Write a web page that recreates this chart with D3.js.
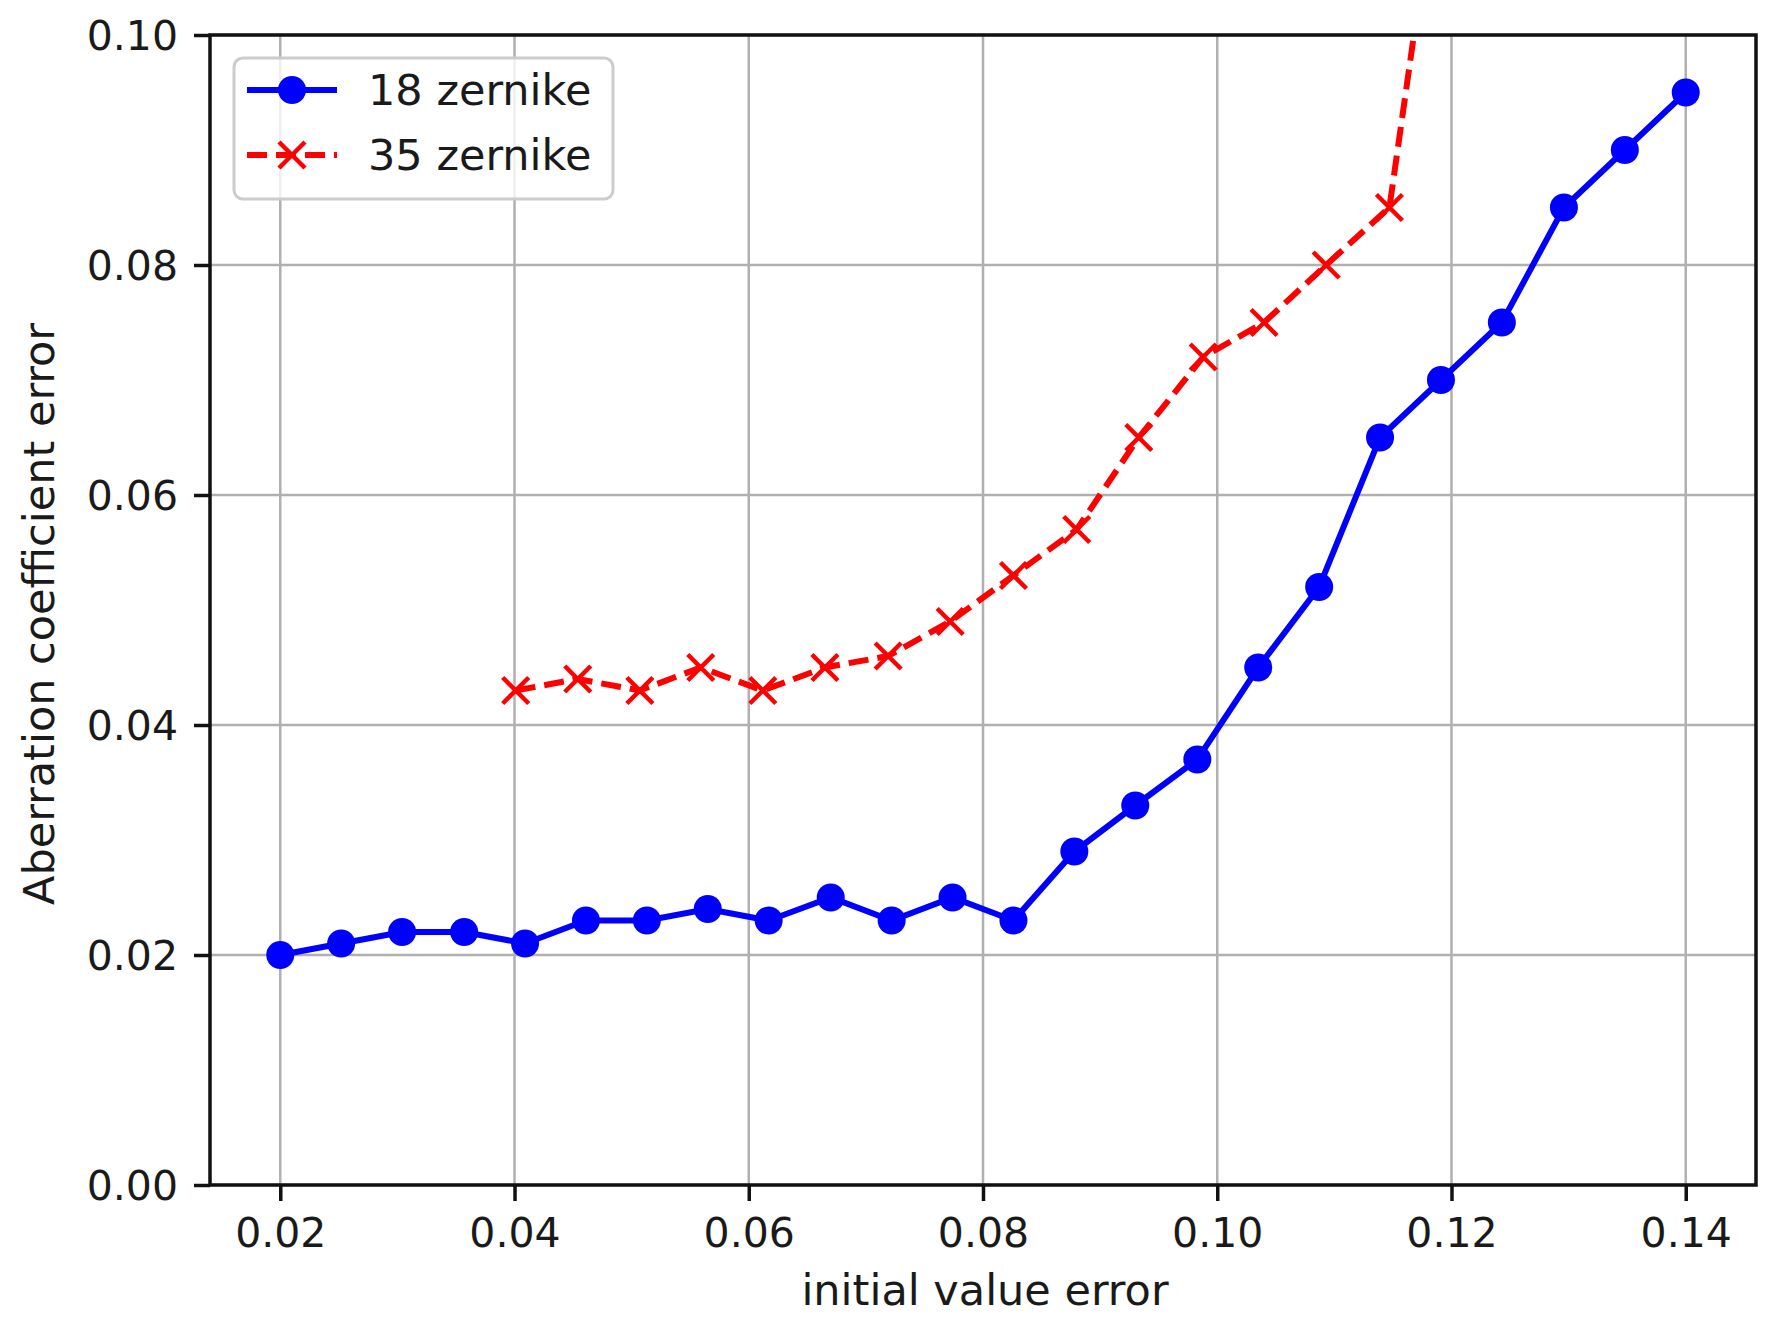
<!DOCTYPE html>
<html>
<head>
<meta charset="utf-8">
<script src="https://cdn.jsdelivr.net/npm/d3@7"></script>
<style>
  html, body { margin: 0; padding: 0; background: #fff; }
  svg { display: block; }
  text { font-family: "DejaVu Sans", sans-serif; fill: #1a1a1a; }
</style>
</head>
<body>
<svg id="chart" width="1775" height="1328"></svg>
<script>
// ---- data ----
const x18 = [0.0200, 0.0252, 0.0304, 0.0357, 0.0409, 0.0461, 0.0513, 0.0565,
             0.0617, 0.0670, 0.0722, 0.0774, 0.0826, 0.0878, 0.0930, 0.0983,
             0.1035, 0.1087, 0.1139, 0.1191, 0.1243, 0.1296, 0.1348, 0.1400];
const y18 = [0.020, 0.021, 0.022, 0.022, 0.021, 0.023, 0.023, 0.024,
             0.023, 0.025, 0.023, 0.025, 0.023, 0.029, 0.033, 0.037,
             0.045, 0.052, 0.065, 0.070, 0.075, 0.085, 0.090, 0.095];
const x35 = [0.0401, 0.0454, 0.0507, 0.0559, 0.0612, 0.0665, 0.0719, 0.0772,
             0.0826, 0.0880, 0.0933, 0.0988, 0.1040, 0.1093, 0.1147, 0.1200];
const y35 = [0.043, 0.044, 0.043, 0.045, 0.043, 0.045, 0.046, 0.049,
             0.053, 0.057, 0.065, 0.072, 0.075, 0.080, 0.085, 0.123];
const xTicks = [0.02, 0.04, 0.06, 0.08, 0.10, 0.12, 0.14];
const yTicks = [0.00, 0.02, 0.04, 0.06, 0.08, 0.10];
const seriesNames = ["18 zernike", "35 zernike"];
const xLabel = "initial value error";
const yLabel = "Aberration coefficient error";

// ---- layout ----
const L = 210, R = 1756, T = 35, B = 1185;
const FS = 41, FS_LAB = 43;
const svg = d3.select("#chart");

const x = d3.scaleLinear().domain([0.014, 0.146]).range([L, R]);
const y = d3.scaleLinear().domain([0, 0.10]).range([B, T]);

svg.append("defs").append("clipPath").attr("id", "clip")
  .append("rect").attr("x", L).attr("y", T).attr("width", R - L).attr("height", B - T);

// grid
const grid = svg.append("g");
grid.selectAll("line.gx").data(xTicks).join("line")
  .attr("x1", d => x(d)).attr("x2", d => x(d)).attr("y1", T).attr("y2", B)
  .attr("stroke", "#b0b0b0").attr("stroke-width", 2.5);
grid.selectAll("line.gy").data(yTicks).join("line")
  .attr("y1", d => y(d)).attr("y2", d => y(d)).attr("x1", L).attr("x2", R)
  .attr("stroke", "#b0b0b0").attr("stroke-width", 2.5);

// axes
const xAxis = d3.axisBottom(x).tickValues(xTicks).tickFormat(d3.format(".2f"))
  .tickSizeInner(16).tickSizeOuter(0).tickPadding(14);
const yAxis = d3.axisLeft(y).tickValues(yTicks).tickFormat(d3.format(".2f"))
  .tickSizeInner(16).tickSizeOuter(0).tickPadding(16);

const gx = svg.append("g").attr("transform", `translate(0,${B})`).call(xAxis);
const gy = svg.append("g").attr("transform", `translate(${L},0)`).call(yAxis);
[gx, gy].forEach(g => {
  g.select(".domain").remove();
  g.selectAll(".tick line").attr("stroke", "#111").attr("stroke-width", 3.5);
  g.selectAll(".tick text").attr("font-size", FS).attr("font-family", "DejaVu Sans").attr("fill", "#1a1a1a");
});
gx.selectAll(".tick text").attr("dy", "0.78em");
gy.selectAll(".tick text").attr("dy", "0.36em");

// data lines
const plot = svg.append("g").attr("clip-path", "url(#clip)");
const d18 = x18.map((v, i) => [v, y18[i]]);
const d35 = x35.map((v, i) => [v, y35[i]]);
const line = d3.line().x(d => x(d[0])).y(d => y(d[1]));

plot.append("path").datum(d35).attr("d", line)
  .attr("fill", "none").attr("stroke", "#ff0000").attr("stroke-width", 6)
  .attr("stroke-dasharray", "20,9");
const xs = 13;
plot.selectAll("path.xm").data(d35).join("path")
  .attr("d", d => {
    const cx = x(d[0]), cy = y(d[1]);
    return `M${cx - xs},${cy - xs}L${cx + xs},${cy + xs}M${cx - xs},${cy + xs}L${cx + xs},${cy - xs}`;
  })
  .attr("stroke", "#ff0000").attr("stroke-width", 4.5).attr("fill", "none");

plot.append("path").datum(d18).attr("d", line)
  .attr("fill", "none").attr("stroke", "#0000ff").attr("stroke-width", 6);
plot.selectAll("circle").data(d18).join("circle")
  .attr("cx", d => x(d[0])).attr("cy", d => y(d[1])).attr("r", 14)
  .attr("fill", "#0000ff");

// spines
svg.append("rect").attr("x", L).attr("y", T).attr("width", R - L).attr("height", B - T)
  .attr("fill", "none").attr("stroke", "#111").attr("stroke-width", 3.5);

// axis labels
svg.append("text").attr("x", (L + R) / 2 + 2).attr("y", 1305).attr("text-anchor", "middle")
  .attr("font-size", FS_LAB).text(xLabel);
svg.append("text").attr("transform", `translate(54,${(T + B) / 2 + 4}) rotate(-90)`)
  .attr("text-anchor", "middle").attr("font-size", FS_LAB).text(yLabel);

// legend
const lg = svg.append("g");
lg.append("rect").attr("x", 234).attr("y", 58).attr("width", 379).attr("height", 141)
  .attr("rx", 9).attr("fill", "#ffffff").attr("fill-opacity", 0.8)
  .attr("stroke", "#cccccc").attr("stroke-width", 3);
const rows = [90, 155];
// row 1
lg.append("line").attr("x1", 247).attr("x2", 337).attr("y1", rows[0]).attr("y2", rows[0])
  .attr("stroke", "#0000ff").attr("stroke-width", 6);
lg.append("circle").attr("cx", 292).attr("cy", rows[0]).attr("r", 14).attr("fill", "#0000ff");
// row 2
lg.append("line").attr("x1", 247).attr("x2", 337).attr("y1", rows[1]).attr("y2", rows[1])
  .attr("stroke", "#ff0000").attr("stroke-width", 6).attr("stroke-dasharray", "20,9");
lg.append("path").attr("d", `M${292 - xs},${rows[1] - xs}L${292 + xs},${rows[1] + xs}M${292 - xs},${rows[1] + xs}L${292 + xs},${rows[1] - xs}`)
  .attr("stroke", "#ff0000").attr("stroke-width", 4.5);
lg.selectAll("text").data(seriesNames).join("text")
  .attr("x", 368).attr("y", (d, i) => rows[i]).attr("dy", "0.36em")
  .attr("font-size", FS_LAB).text(d => d);
</script>
</body>
</html>
